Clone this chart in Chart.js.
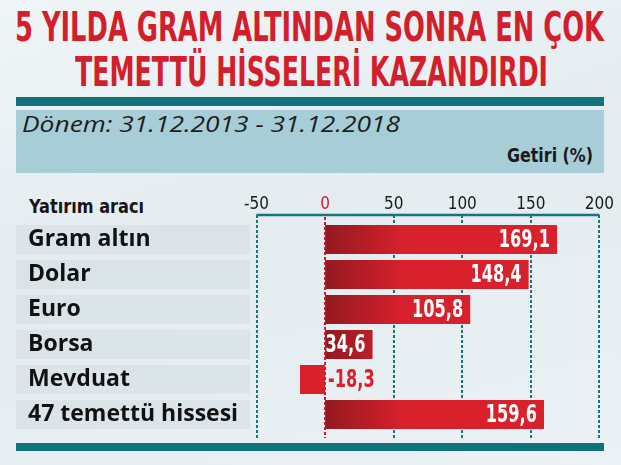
<!DOCTYPE html>
<html><head><meta charset="utf-8">
<script src="https://cdn.jsdelivr.net/npm/chart.js@4.4.1/dist/chart.umd.min.js"></script>
<style>
html,body{margin:0;padding:0;}
body{width:621px;height:465px;overflow:hidden;position:relative;
 background:linear-gradient(165deg,#f0f5f7 0%,#e4ecf0 45%,#ebf1f4 100%);}
.abs{position:absolute;white-space:nowrap;transform-origin:0 0;}
.cond{font-family:"DejaVu Sans Condensed","DejaVu Sans",sans-serif;font-weight:bold;}
.title{color:#d31f2c;font-size:41px;line-height:41px;}
#bar1{left:16px;top:97px;width:588px;height:9px;background:#10727a;}
#box{left:16px;top:110px;width:588px;height:63px;background:#a7cdd6;}
#bar2{left:16px;top:443px;width:588px;height:8px;background:#10727a;}
#donem{font-family:"Open Sans",sans-serif;font-style:italic;font-size:21px;line-height:21px;color:#1e1e1e;}
#getiri{font-size:20px;line-height:20px;color:#1a1a1a;}
#yat{font-size:20px;line-height:20px;color:#161616;}
canvas#c{position:absolute;left:0;top:0;}
</style></head>
<body>
<div id="bar1" class="abs"></div>
<div id="box" class="abs"></div>
<div id="bar2" class="abs"></div>
<div id="t1" class="abs cond title" data-l="15" data-w="589" style="top:7px">5 YILDA GRAM ALTINDAN SONRA EN ÇOK</div>
<div id="t2" class="abs cond title" data-l="75" data-w="473" style="top:52px">TEMETTÜ HİSSELERİ KAZANDIRDI</div>
<div id="donem" class="abs" data-l="22" data-w="378" style="top:114px">Dönem: 31.12.2013 - 31.12.2018</div>
<div id="getiri" class="abs cond" data-l="507" data-w="86" style="top:145px">Getiri (%)</div>
<div id="yat" class="abs cond" data-l="29" data-w="115" style="top:196px">Yatırım aracı</div>
<canvas id="c" width="621" height="465"></canvas>
<script>
const categories = ["Gram altın","Dolar","Euro","Borsa","Mevduat","47 temettü hissesi"];
const returns = [169.1,148.4,105.8,34.6,-18.3,159.6];
const xTicks = [-50,0,50,100,150,200];

function fitAll(){
  document.querySelectorAll('[data-w]').forEach(el=>{
    el.style.transform='none';
    el.style.left=el.dataset.l+'px';
    const w=el.getBoundingClientRect().width;
    el.style.transform='scaleX('+(parseFloat(el.dataset.w)/w)+')';
  });
}
fitAll();
if(document.fonts&&document.fonts.ready) document.fonts.ready.then(fitAll);

const TEAL='#14757a', RED='#d9212c';
const COND='"DejaVu Sans Condensed","DejaVu Sans",sans-serif';
const fmt=v=>v.toFixed(1).replace('.',',');

const decor={
  id:'decor',
  beforeDraw(chart){
    const {ctx,scales:{y}}=chart;
    ctx.save();
    ctx.fillStyle='rgba(190,205,212,0.28)';
    categories.forEach((c,i)=>{const cy=y.getPixelForValue(i);ctx.fillRect(16,cy-14.5,234,29);});
    ctx.restore();
  },
  beforeDatasetsDraw(chart){
    const {ctx,chartArea:a,scales:{x}}=chart;
    const top=a.top-7,bot=a.bottom+6;
    ctx.save();
    ctx.lineWidth=2;ctx.setLineDash([3,2]);ctx.strokeStyle=TEAL;
    x.ticks.forEach(t=>{
      if(t.value===0)return;
      const px=Math.round(x.getPixelForValue(t.value));
      ctx.beginPath();ctx.moveTo(px,top);ctx.lineTo(px,bot);ctx.stroke();
    });
    ctx.setLineDash([]);ctx.lineWidth=2.5;
    ctx.beginPath();ctx.moveTo(a.left,top);ctx.lineTo(a.right,top);ctx.stroke();
    ctx.restore();
  },
  afterDatasetsDraw(chart){
    const {ctx,chartArea:a,scales:{x}}=chart;
    const top=a.top-5,bot=a.bottom+6;
    const x0=Math.round(x.getPixelForValue(0));
    ctx.save();
    ctx.lineWidth=2;ctx.setLineDash([3,2]);ctx.strokeStyle='#c81e29';
    ctx.beginPath();ctx.moveTo(x0,top);ctx.lineTo(x0,bot);ctx.stroke();
    ctx.setLineDash([]);
    const meta=chart.getDatasetMeta(0);
    ctx.font='bold 25px '+COND;
    ctx.textBaseline='middle';
    const sx=0.72;
    meta.data.forEach((bar,i)=>{
      const v=returns[i];
      ctx.save();
      if(v>=0){ctx.fillStyle='#ffffff';ctx.textAlign='right';ctx.translate(bar.x-7,bar.y+1);}
      else{ctx.fillStyle=RED;ctx.textAlign='left';ctx.translate(x0+3,bar.y+1);}
      ctx.scale(sx,1);ctx.fillText(fmt(v),0,0);
      ctx.restore();
    });
    ctx.restore();
  }
};

new Chart(document.getElementById('c'),{
  type:'bar',
  data:{labels:categories,datasets:[{
    data:returns,
    backgroundColor(c){
      const chart=c.chart;
      if(!chart.chartArea)return RED;
      if(c.raw<0)return RED;
      const x0=chart.scales.x.getPixelForValue(0);
      const g=chart.ctx.createLinearGradient(x0,0,x0+80,0);
      g.addColorStop(0,'#931920');g.addColorStop(1,RED);
      return g;
    },
    borderWidth:0,borderSkipped:false,
    barPercentage:29/35,categoryPercentage:1
  }]},
  options:{
    indexAxis:'y',responsive:false,animation:false,
    layout:{padding:{left:28,right:20,top:182,bottom:33}},
    plugins:{legend:{display:false},tooltip:{enabled:false},title:{display:false}},
    scales:{
      x:{type:'linear',position:'top',min:-50,max:200,
        afterBuildTicks(s){s.ticks=xTicks.map(v=>({value:v}));},
        afterFit(s){s.height=40;},
        grid:{display:false,drawTicks:false},border:{display:false},
        ticks:{padding:7,font:{family:COND,size:17},
          color:c=>c.tick.value===0?'#cc1f2b':'#1b1b1b'}},
      y:{position:'left',
        afterFit(s){s.width=228.5;},
        grid:{display:false,drawTicks:false},border:{display:false},
        ticks:{crossAlign:'far',padding:0,color:'#111111',
          font:{family:'"Open Sans","Noto Sans",sans-serif',size:23,weight:'bold'}}}
    }
  },
  plugins:[decor]
});
</script>
</body></html>
